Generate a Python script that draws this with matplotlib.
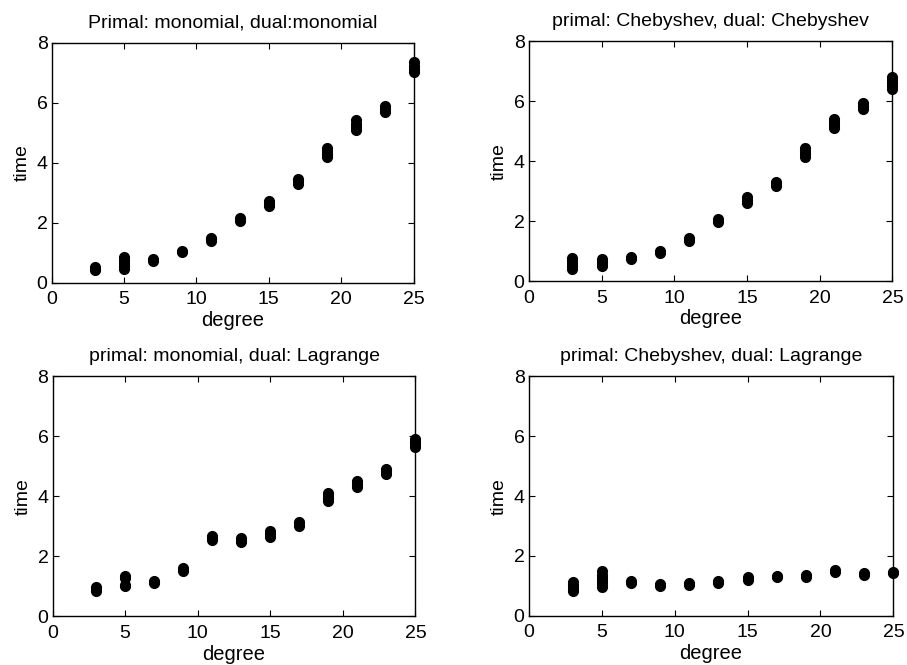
import matplotlib
matplotlib.use("Agg")
import matplotlib.pyplot as plt

plt.rcParams['font.family'] = ['Liberation Sans', 'DejaVu Sans']

degrees = [3, 5, 7, 9, 11, 13, 15, 17, 19, 21, 23, 25]

titles = [
    "Primal: monomial, dual:monomial",
    "primal: Chebyshev, dual: Chebyshev",
    "primal: monomial, dual: Lagrange",
    "primal: Chebyshev, dual: Lagrange",
]

# repeated timing runs per degree
time_mono_mono = [
    [0.42, 0.47, 0.52],
    [0.45, 0.55, 0.65, 0.75, 0.85],
    [0.72, 0.78],
    [1.02, 1.07],
    [1.38, 1.44, 1.5],
    [2.04, 2.1, 2.16],
    [2.56, 2.64, 2.72],
    [3.3, 3.38, 3.46],
    [4.2, 4.3, 4.4, 4.5],
    [5.1, 5.2, 5.3, 5.42],
    [5.68, 5.78, 5.88],
    [7.03, 7.13, 7.23, 7.35],
]
time_cheb_cheb = [
    [0.4, 0.5, 0.6, 0.7, 0.78],
    [0.52, 0.6, 0.68, 0.74],
    [0.74, 0.8],
    [0.94, 1.0],
    [1.35, 1.45],
    [1.96, 2.06],
    [2.6, 2.7, 2.8],
    [3.18, 3.26, 3.32],
    [4.15, 4.25, 4.35, 4.45],
    [5.12, 5.22, 5.32, 5.4],
    [5.75, 5.85, 5.95],
    [6.42, 6.52, 6.62, 6.72, 6.8],
]
time_mono_lag = [
    [0.86, 0.91, 0.97],
    [1.0, 1.06, 1.28, 1.36],
    [1.1, 1.18],
    [1.52, 1.6],
    [2.55, 2.62, 2.68],
    [2.48, 2.54, 2.6],
    [2.66, 2.74, 2.84],
    [3.03, 3.1, 3.16],
    [3.86, 3.96, 4.06, 4.12],
    [4.33, 4.41, 4.5],
    [4.76, 4.84, 4.92],
    [5.65, 5.74, 5.82, 5.9],
]
time_cheb_lag = [
    [0.82, 0.9, 0.98, 1.06, 1.14],
    [0.96, 1.05, 1.15, 1.25, 1.35, 1.5],
    [1.1, 1.17],
    [1.0, 1.06],
    [1.02, 1.08],
    [1.09, 1.15],
    [1.21, 1.28],
    [1.28, 1.34],
    [1.31, 1.37],
    [1.48, 1.54],
    [1.37, 1.43],
    [1.42, 1.48],
]

panels = [time_mono_mono, time_cheb_cheb, time_mono_lag, time_cheb_lag]

xticks = [0, 5, 10, 15, 20, 25]
yticks = [0, 2, 4, 6, 8]

fig = plt.figure(figsize=(9.07, 6.65), dpi=100)
positions = [
    [0.057, 0.575, 0.399, 0.361],
    [0.583, 0.577, 0.401, 0.361],
    [0.058, 0.073, 0.400, 0.361],
    [0.583, 0.074, 0.402, 0.360],
]

for pos, title, data in zip(positions, titles, panels):
    ax = fig.add_axes(pos)
    xs, ys = [], []
    for d, vals in zip(degrees, data):
        for v in vals:
            xs.append(d)
            ys.append(v)
    ax.plot(xs, ys, linestyle='none', marker='o', markersize=7,
            color='black', markeredgecolor='black', clip_on=False, zorder=3)
    ax.set_xlim(0, 25)
    ax.set_ylim(0, 8)
    ax.set_xticks(xticks)
    ax.set_yticks(yticks)
    ax.tick_params(direction='in', top=True, right=True, length=4,
                   width=0.8, labelsize=14)
    ax.tick_params(axis='x', pad=6)
    ax.tick_params(axis='y', pad=3)
    for s in ax.spines.values():
        s.set_linewidth(1.0)
    ax.set_xlabel("degree", fontsize=14.5, labelpad=2)
    ax.set_ylabel("time", fontsize=14, labelpad=4)
    ax.set_title(title, fontsize=14, pad=11)

fig.savefig("out.png", dpi=100)
